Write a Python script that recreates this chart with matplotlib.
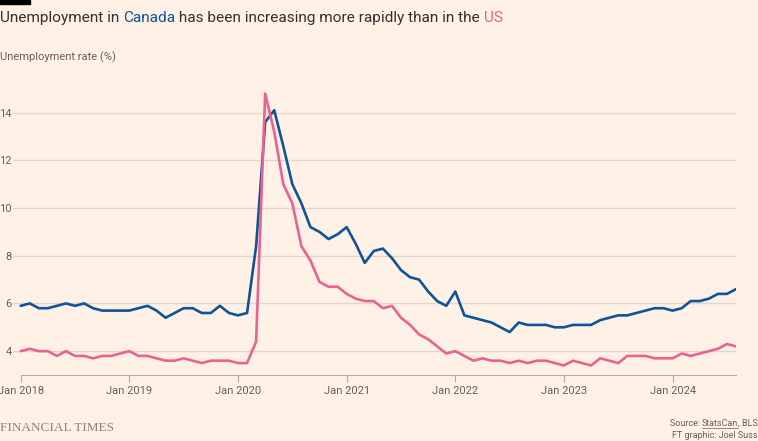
import matplotlib.pyplot as plt
import numpy as np
import pandas as pd

# monthly unemployment rate, Jan 2018 - Aug 2024
months = pd.date_range('2018-01-01', '2024-08-01', freq='MS')

canada = [5.9, 6.0, 5.8, 5.8, 5.9, 6.0, 5.9, 6.0, 5.8, 5.7, 5.7, 5.7,
          5.7, 5.8, 5.9, 5.7, 5.4, 5.6, 5.8, 5.8, 5.6, 5.6, 5.9, 5.6,
          5.5, 5.6, 8.4, 13.6, 14.1, 12.6, 11.0, 10.2, 9.2, 9.0, 8.7, 8.9,
          9.2, 8.5, 7.7, 8.2, 8.3, 7.9, 7.4, 7.1, 7.0, 6.5, 6.1, 5.9,
          6.5, 5.5, 5.4, 5.3, 5.2, 5.0, 4.8, 5.2, 5.1, 5.1, 5.1, 5.0,
          5.0, 5.1, 5.1, 5.1, 5.3, 5.4, 5.5, 5.5, 5.6, 5.7, 5.8, 5.8,
          5.7, 5.8, 6.1, 6.1, 6.2, 6.4, 6.4, 6.6]

us = [4.0, 4.1, 4.0, 4.0, 3.8, 4.0, 3.8, 3.8, 3.7, 3.8, 3.8, 3.9,
      4.0, 3.8, 3.8, 3.7, 3.6, 3.6, 3.7, 3.6, 3.5, 3.6, 3.6, 3.6,
      3.5, 3.5, 4.4, 14.8, 13.2, 11.0, 10.2, 8.4, 7.8, 6.9, 6.7, 6.7,
      6.4, 6.2, 6.1, 6.1, 5.8, 5.9, 5.4, 5.1, 4.7, 4.5, 4.2, 3.9,
      4.0, 3.8, 3.6, 3.7, 3.6, 3.6, 3.5, 3.6, 3.5, 3.6, 3.6, 3.5,
      3.4, 3.6, 3.5, 3.4, 3.7, 3.6, 3.5, 3.8, 3.8, 3.8, 3.7, 3.7,
      3.7, 3.9, 3.8, 3.9, 4.0, 4.1, 4.3, 4.2]

yticks = [4, 6, 8, 10, 12, 14]
xtick_years = [2018, 2019, 2020, 2021, 2022, 2023, 2024]

bg = '#fff1e5'
blue = '#0f5499'
pink = '#e8638f'
grid = '#e2d5ca'
txt = '#66605c'

plt.rcParams['font.family'] = ['Roboto', 'DejaVu Sans']

W, H = 758, 441
fig = plt.figure(figsize=(W / 100, H / 100), dpi=100, facecolor=bg)

# axes placed in pixel terms
left_px, right_px, bot_px, top_px = 13, 736, 375, 84
ax = fig.add_axes([left_px / W, 1 - bot_px / H, (right_px - left_px) / W, (bot_px - top_px) / H])
ax.set_facecolor(bg)

x = np.arange(len(months))
ax.plot(x, canada, color=blue, lw=1.9, solid_joinstyle='round', solid_capstyle='round', zorder=3)
ax.plot(x, us, color=pink, lw=1.9, solid_joinstyle='round', solid_capstyle='round', zorder=4)

ax.set_xlim(-0.85, len(months) - 1)
ax.set_ylim(3, 15.2)

ax.set_yticks(yticks)
ax.set_yticklabels([str(v) for v in yticks])
ax.yaxis.grid(True, color=grid, lw=1)
ax.set_axisbelow(True)

xt = [list(months).index(pd.Timestamp(f'{y}-01-01')) for y in xtick_years]
ax.set_xticks(xt)
ax.set_xticklabels([f'Jan {y}' for y in xtick_years])

for s in ['top', 'right', 'left']:
    ax.spines[s].set_visible(False)
ax.spines['bottom'].set_color('#b3aaa3')
ax.spines['bottom'].set_bounds(0, len(months) - 1)

ax.tick_params(axis='y', length=0, pad=1, labelsize=8, labelcolor=txt)
ax.tick_params(axis='x', length=5, width=0.8, color='#b3aaa3', pad=3, labelsize=8, labelcolor=txt)

# FT black bar
fig.patches.append(plt.Rectangle((0, 1 - 4 / H), 30 / W, 4 / H, transform=fig.transFigure,
                                 color='black', zorder=5))

# title with coloured words
renderer = fig.canvas.get_renderer()
parts = [('Unemployment in ', '#33302e'), ('Canada', blue),
         (' has been increasing more rapidly than in the ', '#33302e'), ('US', pink)]
xpos = 0
for s, c in parts:
    t = fig.text(xpos / W, 1 - 18 / H, s, color=c, fontsize=11.1, va='center', ha='left')
    xpos += t.get_window_extent(renderer).width

fig.text(0, 1 - 57 / H, 'Unemployment rate (%)', fontsize=8, color=txt, va='center')

fig.text(0, 1 - 428 / H, 'FINANCIAL TIMES', fontsize=9.5, color='#8a847f',
         family='Liberation Serif', va='center')

# source line, with "StatsCan" underlined like a link
src_parts = ['Source: ', 'StatsCan', ', BLS']
widths = []
tmp = []
for s in src_parts:
    t = fig.text(0, 0, s, fontsize=6.5)
    widths.append(t.get_window_extent(renderer).width)
    tmp.append(t)
for t in tmp:
    t.remove()
xs = W - sum(widths)
for s, w in zip(src_parts, widths):
    fig.text(xs / W, 1 - 423 / H, s, fontsize=6.5, color=txt, ha='left', va='center')
    if s == 'StatsCan':
        fig.add_artist(plt.Line2D([xs / W, (xs + w) / W], [1 - 428 / H, 1 - 428 / H],
                                  transform=fig.transFigure, color=txt, lw=0.5))
    xs += w
fig.text(1, 1 - 436 / H, 'FT graphic: Joel Suss', fontsize=6.5, color=txt, ha='right', va='center')

fig.savefig('out.png', dpi=100, facecolor=bg)
